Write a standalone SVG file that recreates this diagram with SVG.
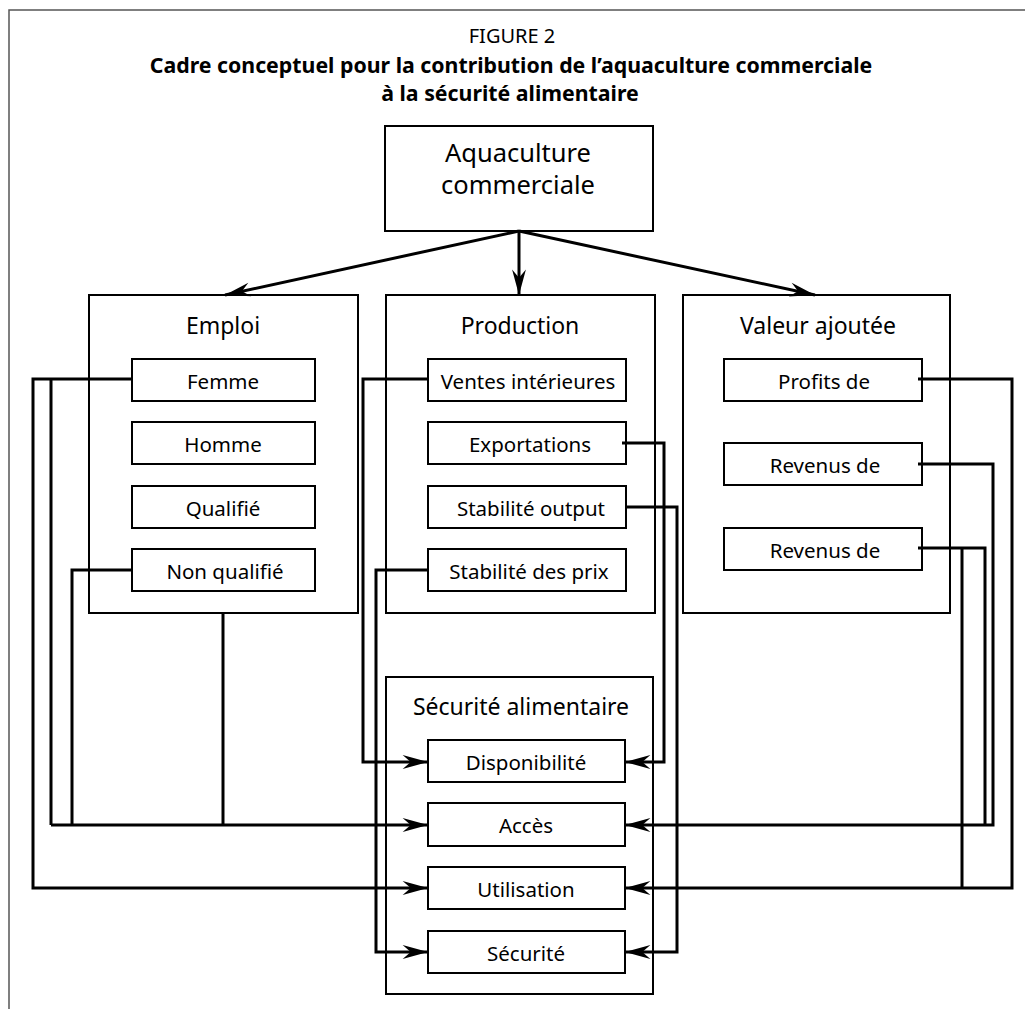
<svg xmlns="http://www.w3.org/2000/svg" width="1025" height="1009" viewBox="0 0 1025 1009">
<style>
.box{fill:#fff;stroke:#000;stroke-width:2}
.ibox{fill:#fff;stroke:#000;stroke-width:2}
.hdr{font-family:"Noto Sans","Open Sans",sans-serif;font-size:23px;text-anchor:middle;fill:#000}
.itx{font-family:"Noto Sans","Open Sans",sans-serif;font-size:20.5px;text-anchor:middle;fill:#000}
.ttl{font-family:"Noto Sans","Open Sans",sans-serif;text-anchor:middle;fill:#000}
.con{fill:none;stroke:#000;stroke-width:3}
.arr{marker-end:url(#ah)}
</style>
<defs>
<marker id="ah" markerUnits="userSpaceOnUse" markerWidth="30" markerHeight="20" viewBox="-24 -8 26 16" refX="0" refY="0" orient="auto">
<path d="M0,0 L-22,-6 L-15,0 L-22,6 Z" fill="#000"/>
</marker>
</defs>
<rect width="1025" height="1009" fill="#fff"/>
<path d="M9,1009 V10 H1025" fill="none" stroke="#555" stroke-width="1.5"/>
<g id="title">
<text class="ttl" x="512" y="43" font-size="20">FIGURE 2</text>
<text class="ttl" x="511" y="73" font-size="21.3" font-weight="bold">Cadre conceptuel pour la contribution de l’aquaculture commerciale</text>
<text class="ttl" x="510" y="101" font-size="21.3" font-weight="bold">à la sécurité alimentaire</text>
</g>
<g id="aquaculture">
<rect class="box" x="385" y="126" width="268" height="105"/>
<text class="ttl" x="518" y="162" font-size="25.5">Aquaculture</text>
<text class="ttl" x="518" y="194" font-size="25.5">commerciale</text>
</g>
<g id="emploi">
<rect class="box" x="89" y="295" width="269" height="318"/>
<text class="hdr" x="223" y="334">Emploi</text>
<g id="femme"><rect class="ibox" x="132" y="359" width="183" height="42"/><text class="itx" x="223" y="389">Femme</text></g>
<g id="homme"><rect class="ibox" x="132" y="422" width="183" height="42"/><text class="itx" x="223" y="452">Homme</text></g>
<g id="qualifie"><rect class="ibox" x="132" y="486" width="183" height="42"/><text class="itx" x="223" y="516">Qualifié</text></g>
<g id="nonqualifie"><rect class="ibox" x="132" y="549" width="183" height="42"/><text class="itx" x="225" y="579">Non qualifié</text></g>
</g>
<g id="production">
<rect class="box" x="386" y="295" width="269" height="318"/>
<text class="hdr" x="520" y="334">Production</text>
<g id="ventes"><rect class="ibox" x="428" y="359" width="198" height="42"/><text class="itx" x="528" y="389">Ventes intérieures</text></g>
<g id="exportations"><rect class="ibox" x="428" y="422" width="198" height="42"/><text class="itx" x="530" y="452">Exportations</text></g>
<g id="stabout"><rect class="ibox" x="428" y="486" width="198" height="42"/><text class="itx" x="531" y="516">Stabilité output</text></g>
<g id="stabprix"><rect class="ibox" x="428" y="549" width="198" height="42"/><text class="itx" x="529" y="579">Stabilité des prix</text></g>
</g>
<g id="valeur">
<rect class="box" x="683" y="295" width="267" height="318"/>
<text class="hdr" x="818" y="334">Valeur ajoutée</text>
<g id="profits"><rect class="ibox" x="724" y="359" width="198" height="42"/><text class="itx" x="824" y="389">Profits de</text></g>
<g id="revenus1"><rect class="ibox" x="724" y="443" width="198" height="42"/><text class="itx" x="825" y="473">Revenus de</text></g>
<g id="revenus2"><rect class="ibox" x="724" y="528" width="198" height="42"/><text class="itx" x="825" y="558">Revenus de</text></g>
</g>
<g id="securite">
<rect class="box" x="386" y="677" width="267" height="317"/>
<text class="hdr" x="521" y="715">Sécurité alimentaire</text>
<g id="disponibilite"><rect class="ibox" x="428" y="740" width="197" height="42"/><text class="itx" x="526" y="770">Disponibilité</text></g>
<g id="acces"><rect class="ibox" x="428" y="803" width="197" height="43"/><text class="itx" x="526" y="833">Accès</text></g>
<g id="utilisation"><rect class="ibox" x="428" y="867" width="197" height="42"/><text class="itx" x="526" y="897">Utilisation</text></g>
<g id="securite-item"><rect class="ibox" x="428" y="931" width="197" height="42"/><text class="itx" x="526" y="961">Sécurité</text></g>
</g>
<g id="connectors">
<path class="con arr" d="M519,231 L225,295" stroke-width="3.5"/>
<path class="con arr" d="M519,231 L519,295" stroke-width="3"/>
<path class="con arr" d="M519,231 L815,295" stroke-width="3.5"/>
<path class="con arr" d="M132,379 H33 V888 H428"/>
<path class="con" d="M51,379 V825"/>
<path class="con arr" d="M51,825 H428"/>
<path class="con" d="M132,570 H72 V825"/>
<path class="con" d="M223,613 V825"/>
<path class="con arr" d="M428,379 H363 V762 H428"/>
<path class="con arr" d="M428,570 H376 V952 H428"/>
<path class="con arr" d="M622,443 H664 V762 H625"/>
<path class="con arr" d="M625,507 H677 V952 H625"/>
<path class="con arr" d="M918,379 H1012 V888 H625"/>
<path class="con arr" d="M918,464 H993 V825 H625"/>
<path class="con" d="M918,548 H985 V825"/>
<path class="con" d="M962,548 V888"/>
</g>
</svg>
